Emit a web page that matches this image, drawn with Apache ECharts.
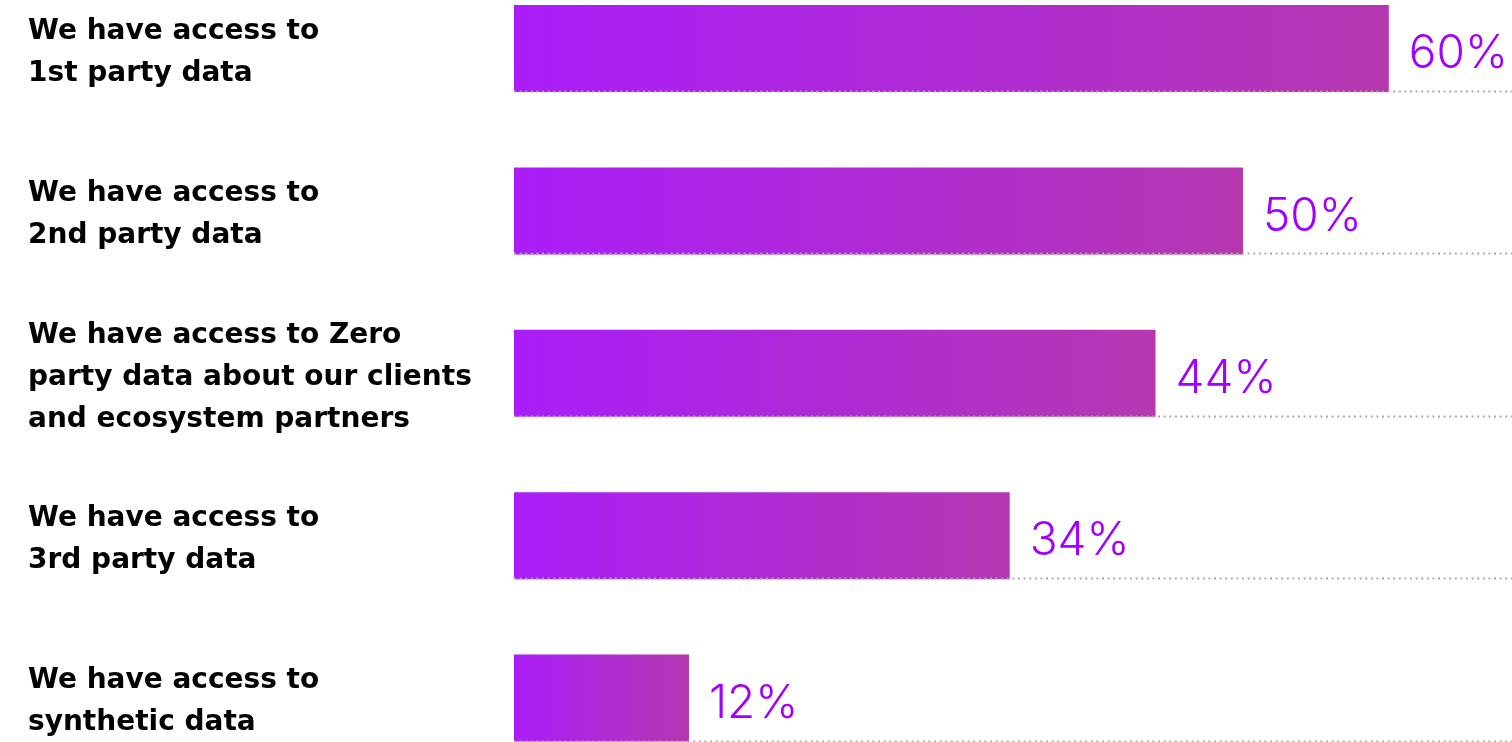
<!DOCTYPE html>
<html><head><meta charset="utf-8">
<script src="https://cdn.jsdelivr.net/npm/echarts@6/dist/echarts.min.js"></script>
<style>html,body{margin:0;padding:0;background:#fff}#c{width:1512px;height:742px}</style>
</head><body><div id="c"></div>
<script>
const categories = [
  'We have access to\n1st party data',
  'We have access to\n2nd party data',
  'We have access to Zero\nparty data about our clients\nand ecosystem partners',
  'We have access to\n3rd party data',
  'We have access to\nsynthetic data'
];
const values = [60, 50, 44, 34, 12];

const BAR_W = 87;
const X_MAX = 68.45;
const chart = echarts.init(document.getElementById('c'));
chart.setOption({
  animation: false,
  grid: { left: 514, right: 0, top: 48.5, bottom: 44 },
  xAxis: { type: 'value', min: 0, max: X_MAX, show: false },
  yAxis: {
    type: 'category', data: categories, inverse: true, boundaryGap: false,
    axisLine: { show: false }, axisTick: { show: false }, splitLine: { show: false },
    axisLabel: {
      align: 'left', margin: 486,
      formatter: function (v) {
        return '{s| }\n' + v.split('\n').map(function (l) { return '{a|' + l + '}'; }).join('\n');
      },
      rich: {
        s: { fontSize: 6, lineHeight: 8 },
        a: { color: '#000', fontFamily: 'DejaVu Sans', fontSize: 28, fontWeight: 'bold', lineHeight: 42 }
      }
    }
  },
  series: [
    {
      type: 'bar', data: values, barWidth: BAR_W, z: 2,
      itemStyle: {
        color: new echarts.graphic.LinearGradient(0, 0, 1, 0, [
          { offset: 0, color: '#AA1DF9' },
          { offset: 1, color: '#B538B0' }
        ])
      },
      label: {
        show: true, position: 'right', distance: 20,
        formatter: '{c}%', color: '#A100FF', fontFamily: 'Inter',
        fontSize: 46, fontWeight: 300, offset: [0, 6]
      }
    },
    {
      type: 'custom', z: 3, silent: true,
      data: categories.map((c, i) => [0, i]),
      renderItem: function (params, api) {
        const p = api.coord([0, api.value(1)]);
        const y = Math.round(p[1] + BAR_W / 2) - 0.5;
        return {
          type: 'line',
          shape: { x1: p[0], y1: y, x2: params.coordSys.x + params.coordSys.width, y2: y },
          style: { stroke: '#AAAAAA', lineWidth: 2, lineDash: [2, 3.6] }
        };
      }
    }
  ]
});
</script></body></html>
